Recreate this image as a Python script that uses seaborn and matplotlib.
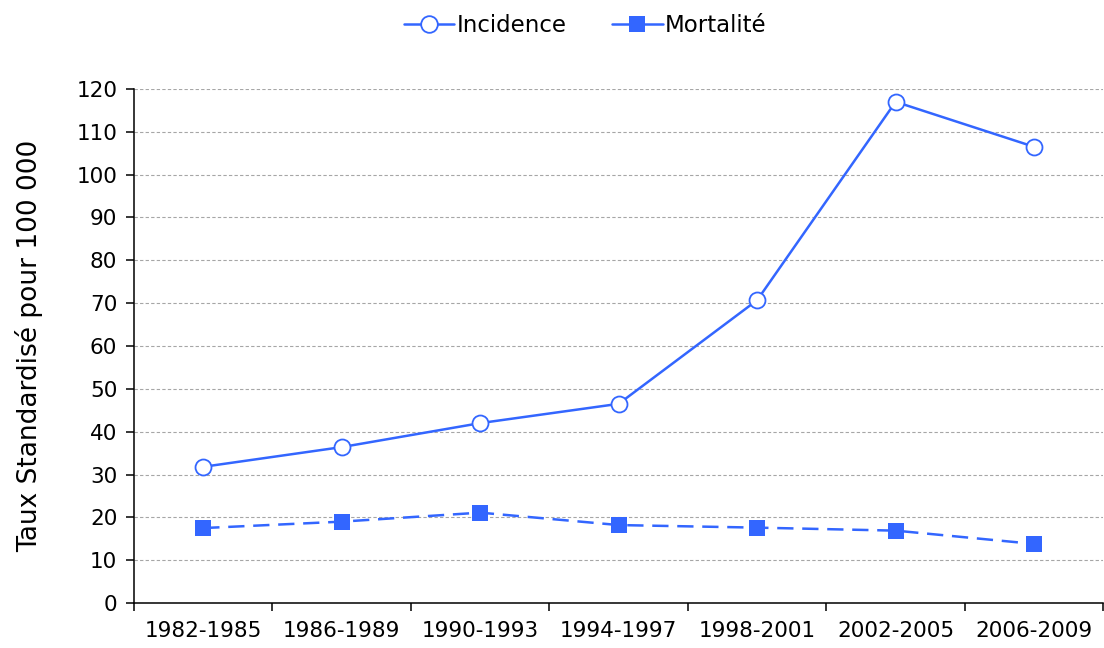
import numpy as np
import pandas as pd
import matplotlib
matplotlib.use("Agg")
import matplotlib.pyplot as plt
from matplotlib.lines import Line2D
from matplotlib.ticker import FixedLocator, MultipleLocator
import seaborn as sns

# data
periods = ["1982-1985", "1986-1989", "1990-1993", "1994-1997",
           "1998-2001", "2002-2005", "2006-2009"]
incidence = [31.8, 36.4, 42.0, 46.5, 70.7, 117.0, 106.5]
mortalite = [17.5, 19.0, 21.1, 18.2, 17.6, 16.9, 13.8]

blue = "#3366FF"

sns.set_style("white")
plt.rcParams["font.family"] = ["DejaVu Sans"]
plt.rcParams["text.color"] = "black"
plt.rcParams["xtick.color"] = "black"
plt.rcParams["ytick.color"] = "black"
plt.rcParams["axes.labelcolor"] = "black"

df = pd.DataFrame({"periode": periods, "Incidence": incidence, "Mortalité": mortalite})

fig = plt.figure(figsize=(11.04, 6.48), dpi=100)
ax = fig.add_axes([0.1214, 0.0694, 0.878, 0.7933])

sns.lineplot(data=df, x="periode", y="Incidence", ax=ax, color=blue,
             marker="o", markersize=11.5, markerfacecolor="white",
             markeredgecolor=blue, markeredgewidth=1.3, linewidth=1.8, zorder=3)
sns.lineplot(data=df, x="periode", y="Mortalité", ax=ax, color=blue,
             marker="s", markersize=11.5, markeredgewidth=0,
             linestyle=(0, (6.5, 3.5)), linewidth=1.8, zorder=3)

ax.set_xlim(-0.5, len(periods) - 0.5)
ax.set_ylim(0, 120)
ax.yaxis.set_major_locator(MultipleLocator(10))
ax.xaxis.set_minor_locator(FixedLocator(np.arange(-0.5, len(periods), 1.0)))

ax.grid(axis="y", color="#a6a6a6", linestyle=(0, (3, 2)), linewidth=0.8)
ax.grid(axis="x", visible=False)
ax.set_axisbelow(True)

for side in ["top", "right"]:
    ax.spines[side].set_visible(False)
for side in ["left", "bottom"]:
    ax.spines[side].set_color("black")
    ax.spines[side].set_linewidth(1.1)

ax.tick_params(axis="x", which="major", bottom=True, length=0, pad=13, labelsize=15.5)
ax.tick_params(axis="x", which="minor", bottom=True, length=6, width=1.1, direction="out")
ax.tick_params(axis="y", left=True, length=6, width=1.1, direction="out", pad=6, labelsize=15.5)

ax.set_xlabel("")
ax.set_ylabel("Taux Standardisé pour 100 000", fontsize=19, labelpad=24)

handles = [
    Line2D([], [], color=blue, marker="o", markersize=12, markerfacecolor="white",
           markeredgecolor=blue, markeredgewidth=1.3, linewidth=1.8),
    Line2D([], [], color=blue, marker="s", markersize=12, markeredgewidth=0, linewidth=1.8),
]
fig.legend(handles, ["Incidence", "Mortalité"], loc="upper center",
           bbox_to_anchor=(0.53, 1.01), ncol=2, frameon=False, fontsize=16.5,
           handlelength=2.2, handletextpad=0.1, columnspacing=2.0)

fig.savefig("out.png", dpi=100)
